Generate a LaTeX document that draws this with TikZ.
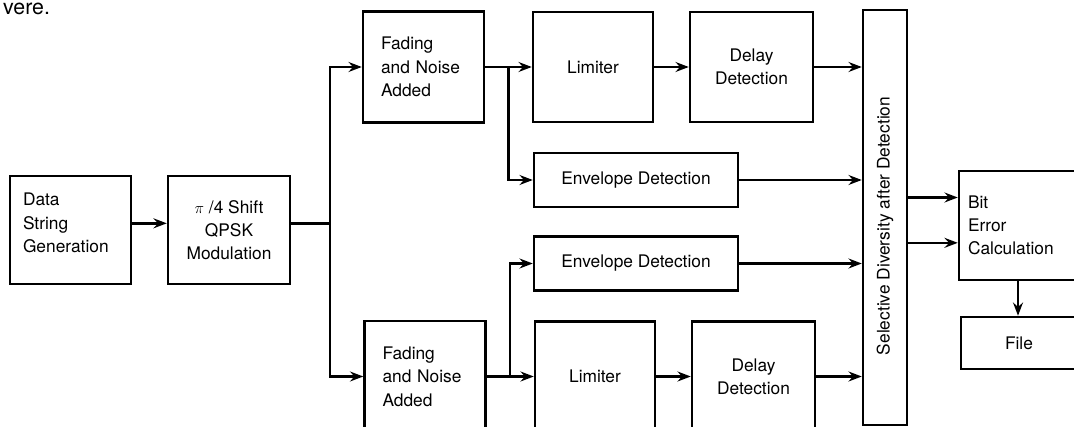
\documentclass[tikz,border=0pt]{standalone}
\usepackage{fontspec}
\setmainfont{TeX Gyre Heros}
\usetikzlibrary{arrows.meta}

\begin{document}
\begin{tikzpicture}[x=0.75pt, y=-0.75pt, line width=1.85pt,
  block/.style={draw, rectangle, font=\fontsize{13}{17.5}\selectfont, align=center, inner sep=0pt, minimum width=90pt, minimum height=82.5pt},
  textblock/.style={block, align=left},
  envbox/.style={block, minimum width=153pt, minimum height=40.5pt},
  arr/.style={-{Stealth[length=10pt, width=7.5pt, inset=3.5pt]}}]
 \useasboundingbox (0,0) rectangle (1074,427);
 \clip (0,0) rectangle (1074,427);

 \node (frag) [anchor=base west, inner sep=0pt, font=\fontsize{16}{20}\selectfont] at (2,15) {vere.};

 \node (data) [textblock, minimum width=90.75pt, minimum height=81pt, text width=71.25pt, text depth=45.5pt] at (70.5,230) {Data\\String\\Generation};
 \node (qpsk) [block, minimum width=91.5pt, minimum height=81pt] at (229,230) {$\pi$ /4 Shift\\QPSK\\Modulation};
 \node (fad1) [textblock, minimum width=90.75pt, minimum height=83.25pt, text width=63.75pt] at (423.5,67) {Fading\\and Noise\\Added};
 \node (fad2) [textblock, minimum width=90.75pt, minimum height=83.25pt, text width=63.75pt] at (425,376.5) {Fading\\and Noise\\Added};
 \node (lim1) [block] at (593,67) {Limiter};
 \node (lim2) [block] at (595,376.5) {Limiter};
 \node (del1) [block, minimum width=92.25pt] at (751.5,67) {Delay\\Detection};
 \node (del2) [block, minimum width=92.25pt] at (753.5,376.5) {Delay\\Detection};
 \node (env1) [envbox] at (636,180) {Envelope Detection};
 \node (env2) [envbox] at (636,263.5) {Envelope Detection};
 \node (sel) [block, minimum width=33pt, minimum height=311.25pt] at (885,217.5) {\rotatebox{90}{Selective Diversity after Detection\hspace*{12.75pt}}};
 \node (bit) [textblock, minimum width=88.5pt, minimum height=81.75pt, text width=75pt] at (1018,225.5) {Bit\\Error\\Calculation};
 \node (file) [block, minimum width=87pt, minimum height=39pt] at (1019,343) {File};

 \draw[arr] ([yshift=5pt]data.east) -- ([yshift=5pt]qpsk.west);
 \draw ([yshift=5pt]qpsk.east) -- ++(39,0) coordinate (fork);
 \draw[arr] (fork) |- (fad1);
 \draw[arr] (fork) |- (fad2);

 \draw[arr] (fad1) -- coordinate (tap1) (lim1);
 \draw[arr] (tap1) |- (env1);
 \draw[arr] (fad2) -- coordinate (tap2) (lim2);
 \draw[arr] (tap2) |- (env2);
 \draw[arr] (lim1) -- (del1);
 \draw[arr] (lim2) -- (del2);

 \draw[arr] (del1) -- (del1 -| sel.west);
 \draw[arr] (env1) -- (env1 -| sel.west);
 \draw[arr] (env2) -- (env2 -| sel.west);
 \draw[arr] (del2) -- (del2 -| sel.west);

 \draw[arr] ([yshift=21pt]bit.west -| sel.east) -- ([yshift=21pt]bit.west);
 \draw[arr] ([yshift=-13pt]bit.west -| sel.east) -- ([yshift=-13pt]bit.west);
 \draw[arr] (bit) -- (bit.south |- file.north);
\end{tikzpicture}
\end{document}
